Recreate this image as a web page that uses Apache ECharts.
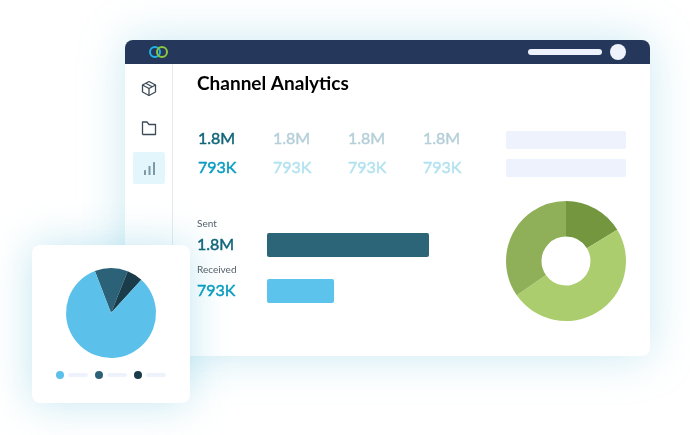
<!DOCTYPE html>
<html>
<head>
    <meta charset="utf-8">
    <title>Channel Analytics</title>
    <style>
        html, body { margin: 0; padding: 0; background: #fff; }
    </style>
</head>
<body>
    <div id="main" style="width: 690px;height:435px;"></div>
<script src="https://cdn.jsdelivr.net/npm/echarts@6/dist/echarts.min.js"></script>
<script>
var titleText = 'Channel Analytics';
var sentValues = ['1.8M', '1.8M', '1.8M', '1.8M'];
var receivedValues = ['793K', '793K', '793K', '793K'];

// bar lengths
var barNames = ['Sent', 'Received'];
var barLabels = ['1.8M', '793K'];
var barValues = [1800, 745];
var barColors = ['#2c6578', '#5cc3ec'];

var smallPieNames = ['A', 'B', 'C'];
var smallPieValues = [11.9, 5.7, 82.4];
var smallPieColors = ['#2c6278', '#1a3b49', '#5cc1ea'];
var legendColors = ['#5cc1ea', '#2c6278', '#1a3b49'];

var donutNames = ['A', 'B', 'C'];
var donutValues = [16.3, 49, 34.7];
var donutColors = ['#73963f', '#accd6e', '#8fb058'];

var font = 'Lato';
var myChart = echarts.init(document.getElementById('main'));

function pieData(names, values, colors) {
    return names.map(function (n, i) {
        return { name: n, value: values[i], itemStyle: { color: colors[i] } };
    });
}

// Lato has no medium cut here, a thin stroke thickens the regular one
function label(x, y, text, size, color, weight) {
    return {
        type: 'text', x: x, y: y, z: 6,
        style: {
            text: text, fontFamily: font, fontSize: size, fontWeight: weight || 400,
            fill: color, stroke: color, lineWidth: weight || size < 12 ? 0 : 0.45, verticalAlign: 'middle'
        }
    };
}

function box(x, y, w, h, color, r, z) {
    return { type: 'rect', z: z || 3, shape: { x: x, y: y, width: w, height: h, r: r || 0 }, style: { fill: color } };
}

function iconLine(points) {
    return { type: 'polyline', z: 3, shape: { points: points }, style: { fill: 'none', stroke: '#3d4a58', lineWidth: 1.3, lineJoin: 'round' } };
}

var shapes = [
    // main window
    { type: 'rect', z: -5, shape: { x: 125, y: 40, width: 525, height: 316, r: 8 },
      style: { fill: '#fff', shadowBlur: 45, shadowColor: 'rgba(120,200,225,0.4)' } },
    { type: 'rect', z: -4, shape: { x: 125, y: 40, width: 525, height: 24, r: [8, 8, 0, 0] }, style: { fill: '#25375a' } },
    box(172, 64, 1, 181, '#e6e9ee', 0, -4),
    box(133, 152, 32, 32, '#e3f6fc', 2, -3),
    // header bits
    box(528, 49, 74, 6, '#eef2fc', 3),
    { type: 'circle', z: 3, shape: { cx: 618, cy: 52, r: 8 }, style: { fill: '#eef2fc' } },
    { type: 'circle', z: 3, shape: { cx: 155, cy: 52, r: 5 }, style: { fill: 'none', stroke: '#22b2e2', lineWidth: 2 } },
    { type: 'circle', z: 3, shape: { cx: 162, cy: 52, r: 5 }, style: { fill: 'none', stroke: '#8cc63f', lineWidth: 2 } },
    // sidebar icons
    iconLine([[149, 81.5], [155.5, 85], [155.5, 92], [149, 95.5], [142.5, 92], [142.5, 85], [149, 81.5]]),
    iconLine([[142.5, 85], [149, 88.5], [155.5, 85]]),
    iconLine([[149, 88.5], [149, 95.5]]),
    iconLine([[145.8, 83.2], [152.2, 86.8]]),
    iconLine([[142.5, 134.5], [142.5, 122], [147, 122], [149, 124.5], [155.5, 124.5], [155.5, 134.5], [142.5, 134.5]]),
    box(144, 170, 2, 5, '#7d98a6', 0.5),
    box(148.5, 166, 2, 9, '#7d98a6', 0.5),
    box(153, 162, 2, 13, '#7d98a6', 0.5),
    // placeholders
    box(506, 131, 120, 18, '#edf2fc', 2),
    box(506, 159, 120, 18, '#edf2fc', 2),
    label(197, 84, titleText, 19, '#000', 700),
    label(197, 224, barNames[0], 10, '#55606a'),
    label(197, 270, barNames[1], 10, '#55606a'),
    label(197, 245, barLabels[0], 16, '#0f6478'),
    label(197, 291, barLabels[1], 16, '#0a9cc0'),
    // floating card
    { type: 'rect', z: 1, shape: { x: 32, y: 245, width: 158, height: 158, r: 8 },
      style: { fill: '#fff', shadowBlur: 40, shadowColor: 'rgba(120,200,225,0.45)' } }
];

var statX = [198, 273, 348, 423];
sentValues.forEach(function (v, i) {
    shapes.push(label(statX[i], 139, v, 16, i == 0 ? '#0f6478' : '#b5cfd9'));
    shapes.push(label(statX[i], 168, receivedValues[i], 16, i == 0 ? '#0a9cc0' : '#b3e2ef'));
});

legendColors.forEach(function (c, i) {
    var x = 60 + i * 39;
    shapes.push({ type: 'circle', z: 3, shape: { cx: x, cy: 375, r: 4 }, style: { fill: c } });
    shapes.push(box(x + 8, 373, 20, 4, '#eef2fc', 2));
});

myChart.setOption({
    animation: false,
    graphic: { elements: shapes },
    grid: { left: 267, top: 222, width: 162, height: 92 },
    xAxis: { type: 'value', min: 0, max: 1800, show: false },
    yAxis: { type: 'category', inverse: true, data: barNames, show: false },
    series: [
        {
            type: 'bar',
            barWidth: 24,
            z: 4,
            itemStyle: { borderRadius: 2 },
            data: barValues.map(function (v, i) {
                return { value: v, itemStyle: { color: barColors[i] } };
            })
        },
        {
            type: 'pie',
            center: [111, 313],
            radius: [0, 45],
            startAngle: 111,
            z: 4,
            label: { show: false },
            labelLine: { show: false },
            data: pieData(smallPieNames, smallPieValues, smallPieColors)
        },
        {
            type: 'pie',
            center: [566, 261],
            radius: [24.5, 60],
            startAngle: 90,
            z: 4,
            label: { show: false },
            labelLine: { show: false },
            data: pieData(donutNames, donutValues, donutColors)
        }
    ]
});
</script>
</body>
</html>
